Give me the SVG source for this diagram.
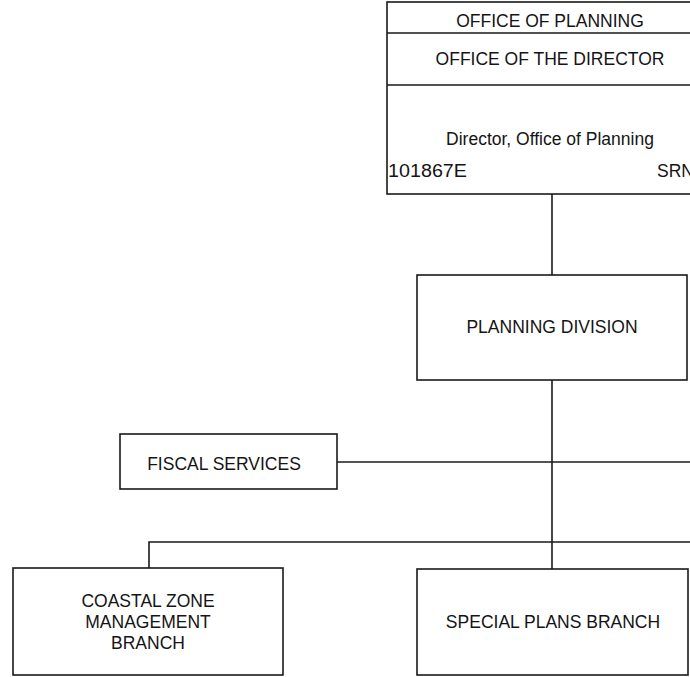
<svg xmlns="http://www.w3.org/2000/svg" width="690" height="677" viewBox="0 0 690 677">
<style>
.box{fill:#fff;stroke:#1a1a1a;stroke-width:1.6}
.ln{fill:none;stroke:#1a1a1a;stroke-width:1.6}
text{font-family:"Liberation Sans",Arial,sans-serif;font-size:17.5px;fill:#141414}
.c{text-anchor:middle}
</style>
<rect width="690" height="677" fill="#fff"/>
<g id="connectors">
<path class="ln" d="M552 194V275"/>
<path class="ln" d="M552 380V569"/>
<path class="ln" d="M337 462H690"/>
<path class="ln" d="M149 568V542H690"/>
</g>
<g id="office-of-planning">
<rect class="box" x="387" y="2" width="320" height="192"/>
<path class="ln" d="M387 33H690M387 85H690"/>
<text class="c" x="550" y="27">OFFICE OF PLANNING</text>
<text class="c" x="550" y="65">OFFICE OF THE DIRECTOR</text>
<text class="c" x="550" y="145">Director, Office of Planning</text>
<text x="388" y="177" textLength="79" lengthAdjust="spacingAndGlyphs">101867E</text>
<text x="657" y="177">SRN</text>
</g>
<g id="planning-division">
<rect class="box" x="417" y="275" width="270" height="105"/>
<text class="c" x="552" y="333">PLANNING DIVISION</text>
</g>
<g id="fiscal-services">
<rect class="box" x="120" y="434" width="217" height="55"/>
<text class="c" x="224" y="470">FISCAL SERVICES</text>
</g>
<g id="coastal-zone">
<rect class="box" x="13" y="568" width="270" height="107"/>
<text class="c" x="148" y="607">COASTAL ZONE</text>
<text class="c" x="148" y="628">MANAGEMENT</text>
<text class="c" x="148" y="649">BRANCH</text>
</g>
<g id="special-plans">
<rect class="box" x="417" y="569" width="271" height="106"/>
<text class="c" x="553" y="628">SPECIAL PLANS BRANCH</text>
</g>
</svg>
